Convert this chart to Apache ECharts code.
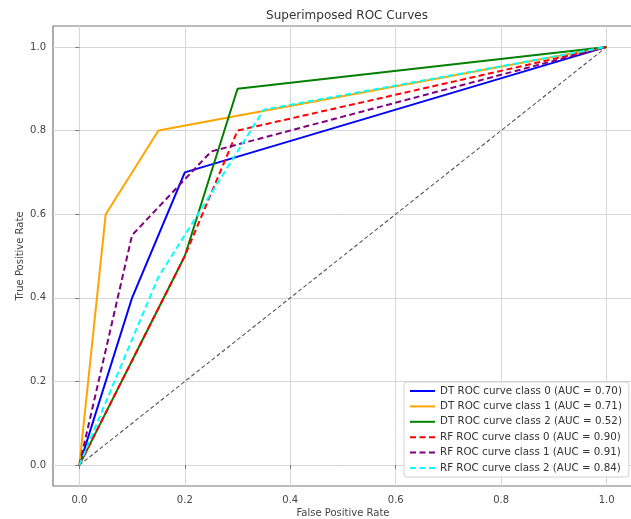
<!DOCTYPE html>
<html><head><meta charset="utf-8">
<script src="https://cdn.jsdelivr.net/npm/echarts@6/dist/echarts.min.js"></script>
<style>html,body{margin:0;padding:0;background:#fff;overflow:hidden}#c{width:631px;height:519px}</style>
</head><body><div id="c"></div>
<script>
const tickValues = [0, 0.2, 0.4, 0.6, 0.8, 1.0];
const seriesNames = [
  'DT ROC curve class 0 (AUC = 0.70)',
  'DT ROC curve class 1 (AUC = 0.71)',
  'DT ROC curve class 2 (AUC = 0.52)',
  'RF ROC curve class 0 (AUC = 0.90)',
  'RF ROC curve class 1 (AUC = 0.91)',
  'RF ROC curve class 2 (AUC = 0.84)'
];
const dtClass0 = [[0, 0], [0.1, 0.4], [0.2, 0.7], [1, 1]];
const dtClass1 = [[0, 0], [0.05, 0.6], [0.15, 0.8], [1, 1]];
const dtClass2 = [[0, 0], [0.2, 0.5], [0.3, 0.9], [1, 1]];
const rfClass0 = [[0, 0], [0.2, 0.5], [0.3, 0.8], [1, 1]];
const rfClass1 = [[0, 0], [0.1, 0.55], [0.25, 0.75], [1, 1]];
const rfClass2 = [[0, 0], [0.15, 0.45], [0.35, 0.85], [1, 1]];
const chanceLine = [[0, 0], [1, 1]];

const colors = ['#0000ff', '#ffa500', '#008000', '#ff0000', '#800080', '#00ffff'];
const dataList = [dtClass0, dtClass1, dtClass2, rfClass0, rfClass1, rfClass2];
const font = 'DejaVu Sans';

const series = dataList.map((d, i) => ({
  name: seriesNames[i],
  type: 'line',
  data: d,
  symbol: 'none',
  animation: false,
  lineStyle: { color: colors[i], width: 2, type: i < 3 ? 'solid' : [6, 3.5] },
  itemStyle: { color: colors[i] },
  z: 3
}));
series.push({
  name: 'chance',
  type: 'line',
  data: chanceLine,
  symbol: 'none',
  animation: false,
  lineStyle: { color: '#555', width: 1.1, type: [4, 2.5] },
  z: 2
});

const axisCommon = {
  type: 'value', min: -0.05, max: 1.05,
  axisLine: { show: false },
  axisTick: { show: true, customValues: tickValues, length: 4, lineStyle: { color: '#777' } },
  axisLabel: { customValues: tickValues, formatter: v => v.toFixed(1), color: '#444', fontFamily: font, fontSize: 10, margin: 7 },
  splitLine: { show: true, lineStyle: { color: '#d6d6d6', width: 1 } },
  nameLocation: 'middle',
  nameMoveOverlap: false,
  nameTextStyle: { color: '#444', fontFamily: font, fontSize: 10 }
};

const chart = echarts.init(document.getElementById('c'), null, { renderer: 'canvas' });
chart.setOption({
  animation: false,
  backgroundColor: '#fff',
  title: { text: 'Superimposed ROC Curves', left: 342, textAlign: 'center', top: 5,
    textStyle: { fontFamily: font, fontSize: 12, fontWeight: 'normal', color: '#333' } },
  grid: { left: 53, top: 26, width: 580, height: 460, show: true, borderColor: '#777', borderWidth: 1.2,
    backgroundColor: 'transparent', outerBoundsMode: 'none', containLabel: false },
  xAxis: Object.assign({}, axisCommon, {
    name: 'False Positive Rate', nameGap: 22,
    axisLabel: Object.assign({}, axisCommon.axisLabel, { margin: 9 })
  }),
  yAxis: Object.assign({}, axisCommon, { name: 'True Positive Rate', nameGap: 28 }),
  legend: {
    data: seriesNames, orient: 'vertical', left: 404, top: 382,
    itemWidth: 25, itemHeight: 12, itemGap: 5.4,
    padding: [4, 7, 4, 5],
    borderColor: '#d0d0d0', borderWidth: 1, borderRadius: 3,
    backgroundColor: 'rgba(255,255,255,0.85)',
    itemStyle: { opacity: 0 },
    textStyle: { fontFamily: font, fontSize: 10.3, color: '#333' }
  },
  series: series
});
</script></body></html>
